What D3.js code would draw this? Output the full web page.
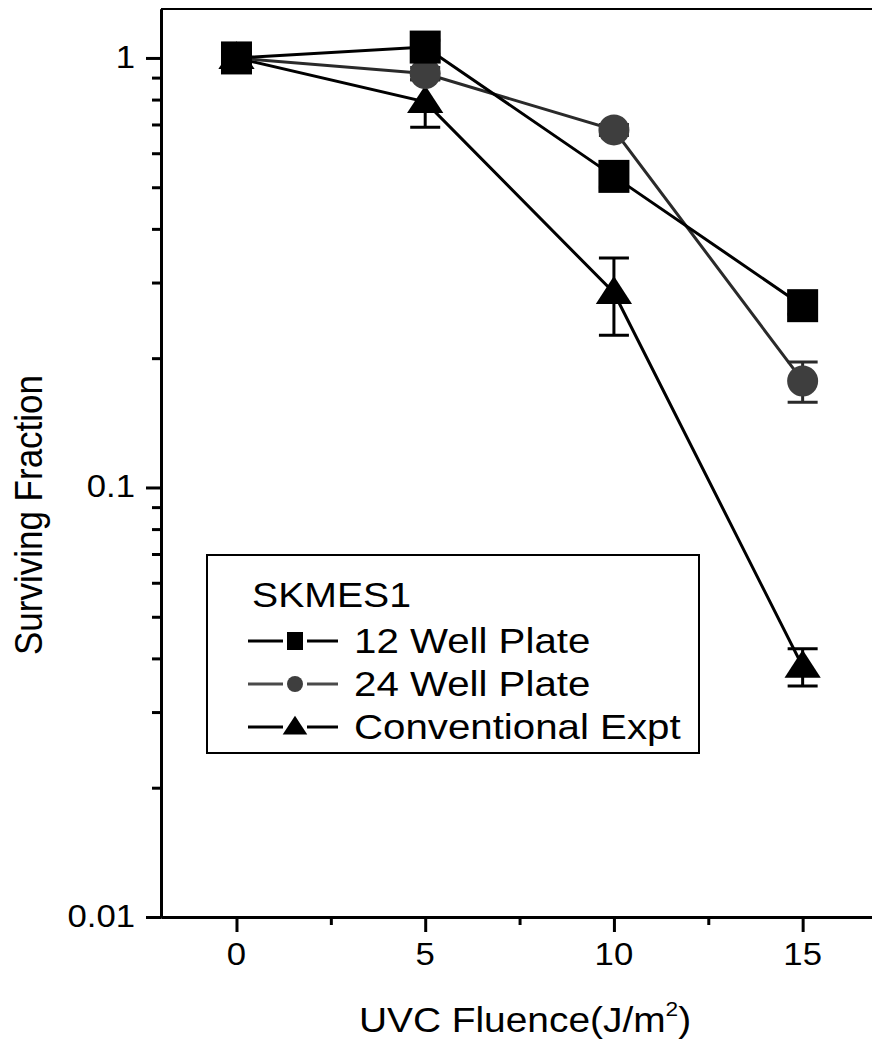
<!DOCTYPE html>
<html>
<head>
<meta charset="utf-8">
<script src="https://cdn.jsdelivr.net/npm/d3@7"></script>
<style>
body{margin:0;background:#fff}
svg{display:block}
text{font-family:"Liberation Sans",Arial,sans-serif;fill:#000}
</style>
</head>
<body>
<svg id="survGraph"></svg>
<script>
// values
var fluence = [0,5,10,15]
var well12 = [1.0,1.06,0.53,0.265]
var well12Err = [0.03,0.04,0.03,0.012]
var well24 = [1.0,0.92,0.68,0.177]
var well24Err = [0.03,0.03,0.02,0.019]
var conv = [1.0,0.79,0.284,0.0383]
var convErr = [0.04,0.10,0.058,0.0038]
var seriesNames = ["12 Well Plate","24 Well Plate","Conventional Expt"]
var legendTitle = "SKMES1"
var xTicks = [0,5,10,15]
var xMinor = [2.5,7.5,12.5]
var yTicks = [0.01,0.1,1]

var screen = {width:872,height:1040}
var plot = {left:161,top:9,bottom:917}

var svg = d3.select("#survGraph")
    .attr("width",screen.width)
    .attr("height",screen.height)

var xScale = d3.scaleLinear()
    .domain([-2,17.5])
    .range([plot.left,897])

var yScale = d3.scaleLog()
    .domain([0.01,1.3])
    .range([plot.bottom,plot.top])

var series = [
    {name:seriesNames[2],vals:conv,err:convErr,shape:"tri",color:"#000",lineColor:"#000"},
    {name:seriesNames[1],vals:well24,err:well24Err,shape:"circle",color:"#3e3e3e",lineColor:"#2a2a2a"},
    {name:seriesNames[0],vals:well12,err:well12Err,shape:"square",color:"#000",lineColor:"#000"}
]

var triPath = function(cx,cy,w,h)
{
    return "M"+cx+","+(cy-h*0.6)+"L"+(cx+w/2)+","+(cy+h*0.4)+"L"+(cx-w/2)+","+(cy+h*0.4)+"Z"
}

var drawMarker = function(g,shape,cx,cy,size,color)
{
    if(shape=="square")
    {
        g.append("rect")
            .attr("x",cx-size/2)
            .attr("y",cy-size/2-1)
            .attr("width",size)
            .attr("height",size+2)
            .attr("fill",color)
    }
    else if(shape=="circle")
    {
        g.append("circle")
            .attr("cx",cx)
            .attr("cy",cy)
            .attr("r",size/2)
            .attr("fill",color)
    }
    else
    {
        g.append("path")
            .attr("d",triPath(cx,cy,size*1.17,size*0.9))
            .attr("fill",color)
    }
}

var drawAxes = function()
{
    // frame (top edge and right edge off the page)
    svg.append("path")
        .attr("d","M"+plot.left+","+plot.top+"H"+xScale.range()[1]+"V"+plot.bottom)
        .attr("fill","none")
        .attr("stroke","#000")
        .attr("stroke-width",2)

    var yAxis = d3.axisLeft(yScale)
        .tickValues(yTicks)
        .tickSize(15)
        .tickSizeOuter(0)
        .tickFormat("")
    var yMinor = d3.axisLeft(yScale)
        .tickValues(yScale.ticks().filter(function(d){return yTicks.indexOf(d)<0}))
        .tickSize(9)
        .tickSizeOuter(0)
        .tickFormat("")

    var xAxis = d3.axisBottom(xScale)
        .tickValues(xTicks)
        .tickSize(15)
        .tickSizeOuter(0)
        .tickFormat("")
    var xMinorAxis = d3.axisBottom(xScale)
        .tickValues(xMinor)
        .tickSize(8)
        .tickSizeOuter(0)
        .tickFormat("")

    svg.append("g")
        .attr("class","axis")
        .attr("transform","translate("+plot.left+",0)")
        .call(yMinor)
    svg.append("g")
        .attr("class","axis")
        .attr("transform","translate("+plot.left+",0)")
        .call(yAxis)
    svg.append("g")
        .attr("class","axis")
        .attr("transform","translate(0,"+plot.bottom+")")
        .call(xMinorAxis)
    svg.append("g")
        .attr("class","axis")
        .attr("transform","translate(0,"+plot.bottom+")")
        .call(xAxis)

    svg.selectAll(".axis path, .axis line")
        .attr("stroke","#000")
        .attr("stroke-width",3)

    // tick labels, written out so the scanned font size can be matched
    var fmt = d3.format("")
    svg.append("g").selectAll("text")
        .data(yTicks)
        .enter()
        .append("text")
        .text(function(d){return fmt(d)})
        .attr("text-anchor","end")
        .attr("transform",function(d){return "translate("+(plot.left-26)+","+(yScale(d)+10)+") scale(1.12,1)"})
        .style("font-size","31px")
    svg.append("g").selectAll("text")
        .data(xTicks)
        .enter()
        .append("text")
        .text(function(d){return fmt(d)})
        .attr("text-anchor","middle")
        .attr("transform",function(d){return "translate("+xScale(d)+","+(plot.bottom+48)+") scale(1.12,1)"})
        .style("font-size","31px")
}

var drawData = function()
{
    var g = svg.append("g").attr("id","data")
    var line = d3.line()
        .x(function(d,i){return xScale(fluence[i])})
        .y(function(d){return yScale(d)})

    series.forEach(function(s)
    {
        g.append("path")
            .attr("d",line(s.vals))
            .attr("fill","none")
            .attr("stroke",s.lineColor)
            .attr("stroke-width",3)
    })

    series.forEach(function(s)
    {
        s.vals.forEach(function(v,i)
        {
            var x = xScale(fluence[i])
            var yHi = yScale(v+s.err[i])
            var yLo = yScale(v-s.err[i])
            g.append("path")
                .attr("d","M"+x+","+yHi+"V"+yLo+"M"+(x-15)+","+yHi+"H"+(x+15)+"M"+(x-15)+","+yLo+"H"+(x+15))
                .attr("fill","none")
                .attr("stroke",s.lineColor)
                .attr("stroke-width",3)
        })
    })

    series.forEach(function(s)
    {
        s.vals.forEach(function(v,i)
        {
            drawMarker(g,s.shape,xScale(fluence[i]),yScale(v),31,s.color)
        })
    })
}

var drawLabels = function()
{
    var xt = svg.append("text")
        .attr("text-anchor","middle")
        .attr("transform","translate(525,1032) scale(1.08,1)")
        .style("font-size","36px")
    xt.append("tspan").text("UVC Fluence(J/m")
    xt.append("tspan").text("2").attr("dy",-16).style("font-size","21px")
    xt.append("tspan").text(")").attr("dy",16)

    svg.append("text")
        .text("Surviving Fraction")
        .attr("text-anchor","middle")
        .attr("transform","translate(42,515) scale(1.1,1) rotate(-90)")
        .style("font-size","35px")
}

var drawLegend = function()
{
    var box = {x:207,y:555,w:492,h:198}
    var lg = svg.append("g").attr("id","legend")
    lg.append("rect")
        .attr("x",box.x)
        .attr("y",box.y)
        .attr("width",box.w)
        .attr("height",box.h)
        .attr("fill","#fff")
        .attr("stroke","#000")
        .attr("stroke-width",2)

    lg.append("text")
        .text(legendTitle)
        .attr("transform","translate(252,607) scale(1.12,1)")
        .style("font-size","35px")

    var rows = series.slice().reverse()
    rows.forEach(function(s,i)
    {
        var cy = 641+i*43
        lg.append("path")
            .attr("d","M248,"+cy+"H338")
            .attr("stroke",s.lineColor=="#000"?"#000":"#4a4a4a")
            .attr("stroke-width",3)
        lg.append("rect")
            .attr("x",283)
            .attr("y",cy-11)
            .attr("width",24)
            .attr("height",22)
            .attr("fill","#fff")
        drawMarker(lg,s.shape,295,cy,s.shape=="tri"?21:16,s.color)
        lg.append("text")
            .text(s.name)
            .attr("transform","translate(354,"+(cy+12)+") scale(1.15,1)")
            .style("font-size","35px")
    })
}

drawAxes()
drawData()
drawLegend()
drawLabels()
</script>
</body>
</html>
